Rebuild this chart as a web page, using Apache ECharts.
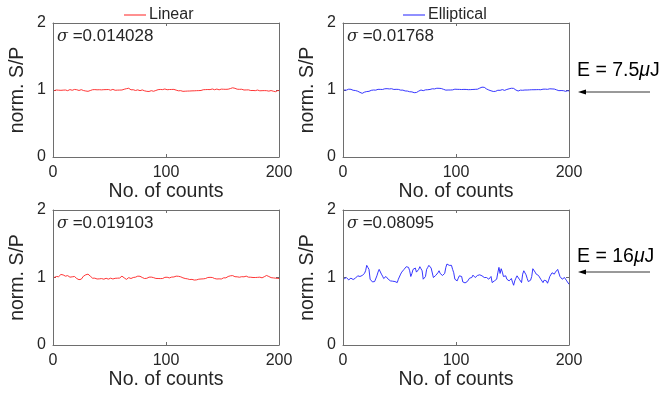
<!DOCTYPE html>
<html>
<head>
<meta charset="utf-8">
<script src="https://cdn.jsdelivr.net/npm/echarts@6/dist/echarts.min.js"></script>
<style>
  html, body { margin: 0; padding: 0; background: #fff; }
  #chart { width: 661px; height: 394px; }
</style>
</head>
<body>
<div id="chart"></div>
<script>
// normalised S/P per shot (counts 1..200)
const linear75 = [
  0.99, 0.995, 1.0, 0.993, 0.997, 1.003, 0.995, 0.99, 0.998, 1.004,
  1.0, 0.994, 0.99, 0.997, 1.006, 1.002, 0.996, 1.003, 1.008, 1.0,
  1.004, 0.997, 0.993, 1.0, 1.005, 0.998, 0.992, 0.988, 0.985, 0.983,
  0.98, 0.986, 0.992, 0.998, 1.004, 1.0, 1.006, 1.01, 1.003, 0.998,
  1.004, 1.009, 1.002, 0.997, 1.005, 1.011, 1.006, 1.0, 1.007, 1.003,
  0.997, 1.004, 1.009, 1.002, 0.996, 1.003, 0.998, 0.992, 0.999, 1.005,
  1.0, 1.006, 1.011, 1.015, 1.02, 1.013, 1.026, 1.01, 1.003, 0.997,
  1.004, 0.999, 0.993, 0.996, 1.002, 0.995, 0.99, 0.996, 1.001, 0.994,
  0.988, 0.984, 0.98, 0.985, 0.978, 0.983, 0.99, 0.985, 0.981, 0.987,
  0.993, 0.999, 1.005, 1.0, 1.008, 1.012, 1.006, 1.01, 1.015, 1.009,
  1.004, 1.011, 1.007, 1.013, 1.008, 1.002, 1.009, 1.004, 0.998, 0.993,
  0.988, 0.984, 0.99, 0.985, 0.98, 0.986, 0.982, 0.988, 0.984, 0.979,
  0.985, 0.99, 0.987, 0.982, 0.988, 0.994, 0.99, 0.985, 0.991, 0.997,
  0.993, 0.998, 1.004, 1.0, 1.006, 1.011, 1.007, 1.012, 1.006, 1.01,
  1.015, 1.009, 1.004, 1.01, 1.014, 1.008, 1.003, 1.009, 1.013, 1.007,
  1.011, 1.005, 1.01, 1.016, 1.012, 1.018, 1.022, 1.028, 1.033, 1.036,
  1.025, 1.018, 1.012, 1.016, 1.01, 1.005, 1.011, 1.006, 1.0, 1.005,
  1.001, 0.996, 1.002, 0.997, 0.992, 0.998, 0.993, 0.997, 0.99, 0.995,
  0.999, 0.993, 0.988, 0.994, 0.99, 0.985, 0.991, 0.996, 0.99, 0.986,
  0.983, 0.988, 0.992, 0.987, 0.982, 0.978, 0.975, 0.985, 0.993, 0.99
];
const elliptical75 = [
  1.0, 1.005, 0.998, 1.008, 1.012, 1.006, 1.01, 1.002, 0.996, 1.0,
  0.992, 0.988, 0.982, 0.975, 0.965, 0.955, 0.95, 0.958, 0.968, 0.973,
  0.977, 0.985, 0.98, 0.99, 0.995, 0.992, 1.0, 1.004, 0.998, 1.006,
  1.01, 1.004, 1.009, 1.015, 1.008, 1.012, 1.018, 1.013, 1.02, 1.024,
  1.016, 1.012, 1.019, 1.014, 1.008, 1.015, 1.01, 1.004, 1.009, 1.002,
  0.998, 1.004, 0.998, 0.992, 0.986, 0.98, 0.984, 0.978, 0.974, 0.98,
  0.972, 0.966, 0.96, 0.958, 0.963, 0.972, 0.983, 0.995, 1.0, 0.994,
  0.99, 0.997, 1.002, 0.996, 1.004, 1.0, 1.008, 1.013, 1.018, 1.021,
  1.016, 1.022, 1.026, 1.02, 1.025, 1.028, 1.022, 1.016, 1.01, 1.004,
  0.998, 0.994, 1.0, 0.996, 1.0, 1.006, 1.002, 1.008, 1.012, 1.006,
  1.01, 1.004, 1.009, 1.013, 1.007, 1.003, 1.009, 1.014, 1.008, 1.012,
  1.005, 1.01, 1.006, 1.012, 1.008, 1.004, 1.01, 1.016, 1.012, 1.02,
  1.028, 1.035, 1.042, 1.048, 1.04, 1.025, 1.016, 1.01, 1.0, 0.994,
  0.988, 0.982, 0.978, 0.985, 0.98, 0.99, 0.996, 1.002, 0.995, 1.0,
  1.006, 1.0, 0.994, 1.0, 1.008, 1.012, 1.018, 1.022, 1.026, 1.03,
  1.024, 1.012, 1.0, 0.99, 0.985, 0.992, 0.998, 1.002, 0.996, 1.002,
  1.0, 1.006, 1.0, 0.995, 1.002, 1.008, 1.004, 0.998, 1.004, 1.01,
  1.005, 1.0, 1.006, 1.01, 1.004, 1.008, 1.012, 1.007, 1.013, 1.016,
  1.01, 1.014, 1.018, 1.012, 1.016, 1.02, 1.014, 1.008, 1.002, 0.995,
  0.99, 0.996, 0.992, 0.986, 0.99, 0.985, 0.98, 0.984, 0.99, 0.986
];
const linear16 = [
  1.0, 1.008, 1.015, 1.022, 1.012, 1.03, 1.045, 1.05, 1.038, 1.03,
  1.02, 1.035, 1.028, 1.018, 1.005, 0.998, 1.01, 1.02, 1.015, 1.0,
  0.985, 0.975, 0.968, 0.962, 0.975, 0.995, 1.02, 1.035, 1.04, 1.045,
  1.05, 1.04, 1.02, 1.005, 0.99, 0.985, 0.99, 0.982, 0.978, 0.985,
  0.98, 0.976, 0.984, 0.979, 0.975, 0.982, 0.988, 0.98, 0.976, 0.983,
  0.99, 0.985, 0.978, 0.982, 0.988, 0.995, 0.99, 0.984, 0.992, 1.01,
  1.02, 1.015, 0.995, 0.98, 0.972, 0.985, 0.998, 0.992, 0.985, 0.995,
  1.0, 0.993, 1.005, 1.015, 1.02, 1.012, 1.018, 1.01, 1.0, 0.992,
  0.985, 0.98, 0.988, 0.995, 1.005, 1.012, 1.006, 1.01, 0.998, 0.99,
  0.986, 0.98, 0.985, 0.978, 0.984, 0.99, 0.985, 0.995, 1.002, 0.996,
  1.004, 1.0, 0.994, 1.002, 1.006, 1.0, 1.008, 1.015, 1.02, 1.012,
  1.018, 1.022, 1.01, 1.0, 0.995, 0.99, 0.985, 0.99, 0.98, 0.975,
  0.97, 0.978, 0.972, 0.966, 0.962, 0.96, 0.965, 0.97, 0.975, 0.982,
  0.978, 0.985, 0.98, 0.99, 0.985, 0.994, 1.0, 0.995, 1.002, 0.996,
  1.0, 0.99, 0.985, 0.992, 0.978, 0.972, 0.98, 0.985, 0.978, 0.99,
  0.995, 1.004, 0.995, 1.008, 1.015, 1.02, 1.025, 1.032, 1.028, 1.02,
  1.012, 1.005, 1.01, 0.998, 1.004, 1.0, 1.012, 1.018, 1.01, 1.015,
  1.02, 1.012, 1.005, 0.998, 1.004, 0.996, 1.0, 0.992, 1.0, 1.008,
  1.002, 1.01, 1.005, 1.0, 0.995, 1.005, 1.012, 1.022, 1.03, 1.025,
  1.015, 1.005, 0.998, 0.99, 0.994, 0.985, 0.99, 0.98, 0.986, 0.985
];
const elliptical16 = [
  0.98, 0.99, 1.0, 0.98, 0.965, 0.97, 0.99, 0.985, 0.97, 0.975,
  0.99, 1.01, 1.025, 1.0, 1.015, 1.02, 1.03, 1.05, 1.06, 1.10,
  1.18, 1.15, 1.12, 0.975, 0.96, 0.935, 0.96, 0.94, 0.95, 1.025,
  1.08, 1.12, 1.13, 1.05, 1.02, 0.985, 1.0, 1.015, 0.99, 0.975,
  0.985, 0.95, 0.96, 0.945, 0.935, 0.94, 0.93, 0.925, 0.975, 1.0,
  1.05, 1.08, 1.09, 1.12, 1.10, 1.16, 1.17, 1.15, 1.10, 1.015,
  1.06, 1.12, 1.10, 1.14, 1.08, 1.10, 1.12, 1.16, 1.13, 1.10,
  0.975, 0.99, 1.015, 1.12, 1.15, 1.18, 1.17, 1.14, 1.12, 1.0,
  1.015, 1.03, 1.05, 1.07, 1.10, 1.06, 1.035, 1.03, 1.025, 1.06,
  1.15, 1.20, 1.19, 1.18, 1.19, 1.18, 1.12, 1.07, 0.975, 0.97,
  0.95, 0.99, 1.025, 1.01, 1.015, 0.935, 0.95, 0.92, 0.90, 0.94,
  0.965, 0.99, 1.015, 1.0, 1.035, 1.02, 1.0, 1.015, 1.03, 1.05,
  1.04, 1.02, 1.025, 1.035, 1.0, 0.975, 1.0, 0.99, 0.975, 0.995,
  1.015, 0.925, 0.94, 0.95, 0.96, 0.975, 1.07, 1.15, 1.06, 1.13,
  1.08, 1.015, 1.02, 1.025, 0.975, 0.96, 0.95, 0.97, 0.985, 0.93,
  0.885, 0.95, 0.99, 1.025, 1.0, 0.975, 0.95, 0.925, 1.05, 1.10,
  1.12, 1.04, 0.985, 0.94, 0.915, 0.96, 1.015, 1.13, 1.11, 1.08,
  1.05, 1.025, 1.03, 1.015, 0.975, 0.95, 0.925, 0.96, 0.985, 0.95,
  0.915, 0.96, 1.015, 1.04, 1.07, 1.06, 1.05, 1.08, 1.10, 1.12,
  1.13, 1.015, 0.99, 0.975, 0.985, 1.0, 0.98, 0.95, 0.94, 0.90
];

const sigmaLabels = ['0.014028', '0.01768', '0.019103', '0.08095'];
const energyLabels = ['7.5', '16'];
const xTicks = [0, 100, 200];
const yTicks = [0, 1, 2];

const FONT = '"Liberation Sans", Arial, Helvetica, sans-serif';
const AXIS_COLOR = '#6e6e6e';
const TEXT_COLOR = '#262626';

const chart = echarts.init(document.getElementById('chart'));

// panel boxes (left, top, width, height)
const panels = [
  { left: 53, top: 23, width: 226, height: 134, data: linear75, color: '#ff2020', name: 'Linear' },
  { left: 343, top: 23, width: 226, height: 134, data: elliptical75, color: '#2020ff', name: 'Elliptical' },
  { left: 53, top: 210, width: 226, height: 135, data: linear16, color: '#ff2020', name: 'Linear' },
  { left: 343, top: 210, width: 226, height: 135, data: elliptical16, color: '#2020ff', name: 'Elliptical' }
];

const grid = [], xAxis = [], yAxis = [], series = [], graphic = [];

panels.forEach((p, i) => {
  grid.push({ left: p.left, top: p.top, width: p.width, height: p.height });
  const xBase = {
    type: 'value', gridIndex: i, min: xTicks[0], max: xTicks[2], interval: 100,
    axisLine: { show: true, onZero: false, lineStyle: { color: AXIS_COLOR, width: 1 } },
    axisTick: { show: true, inside: true, length: 3, lineStyle: { color: AXIS_COLOR } },
    splitLine: { show: false }
  };
  const yBase = {
    type: 'value', gridIndex: i, min: yTicks[0], max: yTicks[2], interval: 1,
    axisLine: { show: true, onZero: false, lineStyle: { color: AXIS_COLOR, width: 1 } },
    axisTick: { show: true, inside: true, length: 3, lineStyle: { color: AXIS_COLOR } },
    splitLine: { show: false }
  };
  xAxis.push(Object.assign({}, xBase, {
    position: 'bottom',
    name: 'No. of counts', nameLocation: 'middle', nameGap: 18,
    nameTextStyle: { fontFamily: FONT, fontSize: 19.5, color: TEXT_COLOR, verticalAlign: 'top' },
    axisLabel: { fontFamily: FONT, fontSize: 16, color: TEXT_COLOR, margin: 8 }
  }));
  xAxis.push(Object.assign({}, xBase, { position: 'top', axisLabel: { show: false } }));
  yAxis.push(Object.assign({}, yBase, {
    position: 'left',
    name: 'norm. S/P', nameLocation: 'middle', nameGap: 25,
    nameTextStyle: { fontFamily: FONT, fontSize: 19.5, color: TEXT_COLOR },
    axisLabel: { fontFamily: FONT, fontSize: 16, color: TEXT_COLOR, margin: 7 }
  }));
  yAxis.push(Object.assign({}, yBase, { position: 'right', axisLabel: { show: false } }));

  series.push({
    name: p.name, type: 'line',
    xAxisIndex: 2 * i, yAxisIndex: 2 * i,
    data: p.data.map((v, k) => [k + 1, v]),
    showSymbol: false, symbol: 'none', animation: false,
    lineStyle: { color: p.color, width: 0.9 },
    itemStyle: { color: p.color }
  });

  graphic.push({
    type: 'text', left: p.left + 4, top: p.top + 5,
    style: {
      text: '{s|σ} =' + sigmaLabels[i],
      font: '17px ' + FONT, fill: TEXT_COLOR,
      rich: { s: { fontStyle: 'italic', fontFamily: 'DejaVu Serif', fontSize: 16, fill: TEXT_COLOR } }
    }
  });
});

// energy annotations with left-pointing arrows
[{ textY: 61, arrowY: 92 }, { textY: 247, arrowY: 272 }].forEach((a, i) => {
  graphic.push({
    type: 'text', left: 577, top: a.textY,
    style: {
      text: 'E = ' + energyLabels[i] + '{m|μ}J',
      font: '19.5px ' + FONT, fill: '#000',
      rich: { m: { fontStyle: 'italic', fontFamily: FONT, fontSize: 19.5, fill: '#000' } }
    }
  });
  graphic.push({
    type: 'line',
    shape: { x1: 584, y1: a.arrowY, x2: 650, y2: a.arrowY },
    style: { stroke: '#000', lineWidth: 0.8 }
  });
  graphic.push({
    type: 'polygon',
    shape: { points: [[578, a.arrowY], [586, a.arrowY - 2.5], [586, a.arrowY + 2.5]] },
    style: { fill: '#000' }
  });
});

const legendBase = {
  orient: 'horizontal', top: 2,
  icon: 'rect', itemWidth: 22, itemHeight: 1, itemGap: 4,
  textStyle: { fontFamily: FONT, fontSize: 16, color: TEXT_COLOR, padding: [0, 0, 0, -2] }
};

chart.setOption({
  animation: false,
  backgroundColor: '#fff',
  legend: [
    Object.assign({}, legendBase, { left: 119, data: ['Linear'] }),
    Object.assign({}, legendBase, { left: 398, data: ['Elliptical'] })
  ],
  grid, xAxis, yAxis, series, graphic
});
</script>
</body>
</html>
